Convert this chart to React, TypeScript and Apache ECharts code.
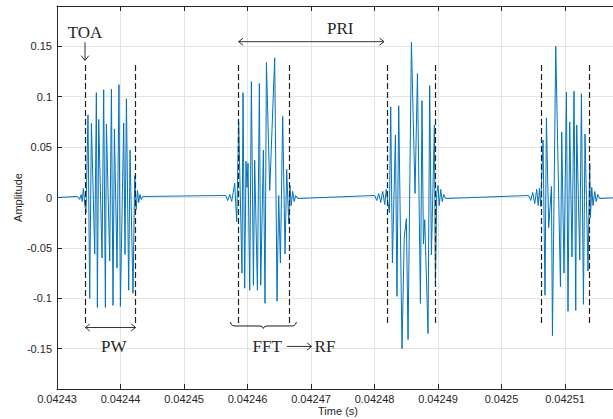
import React, { useEffect, useRef } from "react";
import * as echarts from "echarts";

// time in microseconds, amplitude in signal units
const pulse1: [number, number][] = [
  [42433.26, 0.001], [42433.57, -0.002], [42433.81, 0.003], [42433.97, -0.004],
  [42434.16, 0.009], [42434.36, -0.006], [42434.57, -0.015],
  [42434.88, 0.082], [42435.15, -0.1], [42435.42, 0.0735], [42435.94, -0.056],
  [42436.2, 0.104], [42436.36, -0.109], [42436.57, 0.0775], [42437.09, -0.06],
  [42437.35, 0.107], [42437.62, -0.109], [42437.78, 0.073], [42438.3, -0.063],
  [42438.57, 0.1075], [42438.82, -0.107], [42439.04, 0.068], [42439.45, -0.07],
  [42439.76, 0.112], [42439.98, -0.108], [42440.5, 0.074], [42440.71, -0.0565],
  [42440.93, 0.098], [42441.29, -0.092], [42441.5, 0.047], [42441.97, -0.095],
  [42442.24, 0.0215], [42442.47, -0.012], [42442.68, 0.007], [42442.87, -0.005],
  [42443.07, 0.003], [42443.26, -0.002], [42443.5, 0.001],
];

const pulse2: [number, number][] = [
  [42456.57, 0.002], [42456.88, -0.003], [42457.2, 0.003], [42457.51, -0.004],
  [42457.75, 0.005], [42457.98, 0.014], [42458.3, -0.024],
  [42458.61, 0.075], [42459.13, -0.075], [42459.29, 0.104], [42459.56, -0.09],
  [42459.76, 0.036], [42459.92, 0.01], [42460.08, 0.034], [42460.35, -0.092],
  [42460.61, 0.115], [42460.93, -0.087], [42461.13, 0.037], [42461.56, -0.092],
  [42461.87, 0.113], [42462.08, -0.087], [42462.5, 0.047], [42462.76, -0.105],
  [42462.98, 0.134], [42463.5, 0.007], [42464.28, 0.1386], [42464.65, -0.103],
  [42464.91, 0.002], [42465.18, -0.065], [42465.54, 0.0805], [42465.91, -0.056],
  [42466.17, 0.028], [42466.49, -0.026], [42466.69, 0.012], [42466.88, -0.008],
  [42467.12, 0.006], [42467.35, -0.004], [42467.59, 0.002], [42467.9, -0.001],
];

const pulse3: [number, number][] = [
  [42480.03, 0.002], [42480.35, -0.003], [42480.66, 0.004], [42480.98, -0.005],
  [42481.29, 0.006], [42481.61, -0.007], [42481.84, 0.008], [42482.08, -0.004],
  [42482.35, -0.015], [42482.55, 0.09], [42482.82, -0.065], [42483.29, 0.062],
  [42483.54, -0.098], [42483.81, 0.091], [42484.33, -0.15], [42484.68, -0.04],
  [42485.02, -0.021], [42485.28, -0.141], [42485.81, 0.154], [42486.38, 0.004],
  [42486.76, 0.123], [42487.23, -0.105], [42487.48, 0.096], [42487.7, -0.046],
  [42487.91, -0.022], [42488.43, -0.135], [42488.69, 0.111], [42488.96, -0.057],
  [42489.43, 0.072], [42489.59, -0.087], [42489.8, 0.004], [42490.0, 0.012],
  [42490.19, -0.008], [42490.43, 0.008], [42490.66, -0.004], [42490.9, 0.003],
  [42491.21, -0.001],
];

const pulse4: [number, number][] = [
  [42504.28, 0.002], [42504.6, -0.003], [42504.91, 0.005], [42505.23, -0.006],
  [42505.54, 0.008], [42505.78, -0.008], [42505.97, 0.009], [42506.17, -0.009],
  [42506.54, 0.057], [42506.85, -0.097], [42507.07, 0.079], [42507.43, -0.03],
  [42507.86, 0.011], [42508.02, -0.137], [42508.54, 0.15], [42509.28, -0.0885],
  [42509.48, 0.065], [42509.84, -0.075], [42510.22, 0.1045], [42510.47, -0.113],
  [42510.74, 0.075], [42511.1, -0.059], [42511.42, 0.1055], [42511.69, -0.112],
  [42511.84, 0.072], [42512.32, -0.062], [42512.58, 0.103], [42512.9, -0.106],
  [42513.15, 0.063], [42513.62, -0.073], [42513.89, 0.034], [42514.0, -0.02],
  [42514.21, 0.01], [42514.41, -0.008], [42514.68, 0.006], [42514.91, -0.004],
  [42515.15, 0.003], [42515.46, -0.001],
];

const pulseEdges: number[] = [
  42434.41, 42442.39, 42458.5, 42466.53, 42482.03, 42489.64, 42506.28, 42513.78,
];

const timeRange: [number, number] = [42430, 42518.5];
const ampRange: [number, number] = [-0.19, 0.19];

const INK = "#262626";
const SANS = '"Liberation Sans", Arial, Helvetica, sans-serif';
const SERIF = '"Liberation Serif", "Times New Roman", serif';

export default function App() {
  const ref = useRef<HTMLDivElement>(null);

  useEffect(() => {
    if (!ref.current) return;
    const chart = echarts.init(ref.current, null, { renderer: "svg" });
    const signal: [number, number][] = [
      [timeRange[0], 0],
      ...pulse1,
      ...pulse2,
      ...pulse3,
      ...pulse4,
      [timeRange[1], 0],
    ];
    const fmt = (v: number) => String(parseFloat((v / 1e6).toFixed(6)));

    const xCommon = {
      type: "value",
      min: timeRange[0],
      max: timeRange[1],
      interval: 10,
      axisLine: { show: true, onZero: false, lineStyle: { color: INK, width: 1 } },
      axisTick: { show: true, inside: true, length: 5, lineStyle: { color: INK, width: 1 } },
    };

    chart.setOption({
      animation: false,
      backgroundColor: "#ffffff",
      grid: {
        left: 57,
        top: 6,
        width: 562,
        height: 383,
        containLabel: false,
        outerBoundsMode: "none",
      },
      xAxis: [
        {
          ...xCommon,
          position: "bottom",
          name: "Time (s)",
          nameLocation: "middle",
          nameGap: 16,
          nameMoveOverlap: false,
          nameTextStyle: { color: INK, fontSize: 11, fontFamily: SANS, verticalAlign: "top", lineHeight: 12 },
          axisLabel: {
            show: true,
            margin: 4,
            color: INK,
            fontSize: 11,
            fontFamily: SANS,
            showMaxLabel: false,
            formatter: fmt,
          },
          splitLine: { show: true, lineStyle: { color: "#e3e3e3", width: 1 } },
        },
        {
          ...xCommon,
          position: "top",
          axisLabel: { show: false },
          splitLine: { show: false },
        },
      ],
      yAxis: {
        type: "value",
        min: ampRange[0],
        max: ampRange[1],
        splitNumber: 8,
        minInterval: 0.05,
        maxInterval: 0.05,
        name: "Amplitude",
        nameLocation: "middle",
        nameGap: 34,
        nameMoveOverlap: false,
        nameTextStyle: { color: INK, fontSize: 11, fontFamily: SANS },
        axisLine: { show: true, onZero: false, lineStyle: { color: INK, width: 1 } },
        axisTick: { show: true, inside: true, length: 5, lineStyle: { color: INK, width: 1 } },
        axisLabel: {
          show: true,
          margin: 5,
          color: INK,
          fontSize: 11,
          fontFamily: SANS,
          showMinLabel: false,
          showMaxLabel: false,
        },
        splitLine: { show: true, lineStyle: { color: "#e3e3e3", width: 1 } },
      },
      series: [
        {
          type: "line",
          data: signal,
          showSymbol: false,
          symbol: "none",
          lineStyle: { color: "#0072BD", width: 1 },
          z: 2,
          markLine: {
            silent: true,
            symbol: ["none", "none"],
            label: { show: false },
            lineStyle: { color: "#222222", width: 1.2, type: [6, 3] },
            data: pulseEdges.map((t) => [
              { coord: [t, 0.1315] },
              { coord: [t, -0.1245] },
            ]),
          },
        },
      ],
    });

    const P = (t: number, a: number) =>
      chart.convertToPixel({ seriesIndex: 0 }, [t, a]) as number[];
    const lineStyle = { stroke: "#333333", lineWidth: 1, fill: null as any };
    const g: any[] = [];
    const text = (s: string, p: number[]) =>
      g.push({
        type: "text",
        x: p[0],
        y: p[1],
        z: 10,
        style: {
          text: s,
          font: `17px ${SERIF}`,
          fill: "#262626",
          align: "center",
          verticalAlign: "middle",
        },
      });
    const hArrow = (a: number[], b: number[], left: boolean, right: boolean) => {
      g.push({ type: "line", z: 10, shape: { x1: a[0], y1: a[1], x2: b[0], y2: b[1] }, style: lineStyle });
      if (left)
        g.push({ type: "polyline", z: 10, shape: { points: [[a[0] + 4.5, a[1] - 3.5], [a[0], a[1]], [a[0] + 4.5, a[1] + 3.5]] }, style: lineStyle });
      if (right)
        g.push({ type: "polyline", z: 10, shape: { points: [[b[0] - 4.5, b[1] - 3.5], [b[0], b[1]], [b[0] - 4.5, b[1] + 3.5]] }, style: lineStyle });
    };

    // TOA
    text("TOA", P(42434.41, 0.164));
    const ta = P(42434.41, 0.154);
    const tb = P(42434.41, 0.136);
    g.push({ type: "line", z: 10, shape: { x1: ta[0], y1: ta[1], x2: tb[0], y2: tb[1] }, style: lineStyle });
    g.push({ type: "polyline", z: 10, shape: { points: [[tb[0] - 3.8, tb[1] - 4.8], [tb[0], tb[1]], [tb[0] + 3.8, tb[1] - 4.8]] }, style: lineStyle });

    // PRI
    hArrow(P(42458.6, 0.1546), P(42481.5, 0.1546), true, true);
    text("PRI", P(42474.6, 0.168));

    // PW
    hArrow(P(42434.47, -0.129), P(42442.39, -0.129), true, true);
    text("PW", P(42438.93, -0.148));

    // Brace
    const bl = P(42457.3, -0.1235);
    const br = P(42467.7, -0.1235);
    const L = bl[0], R = br[0], yb = bl[1], yd = yb + 4, tip = yb + 6.5, m = (L + R) / 2;
    g.push({
      type: "polyline",
      z: 10,
      shape: {
        points: [
          [L, yb], [L + 0.8, yb + 2.2], [L + 2.5, yd - 0.3], [L + 4.5, yd],
          [m - 3.5, yd], [m - 1.2, yd + 0.6], [m, tip], [m + 1.2, yd + 0.6],
          [m + 3.5, yd], [R - 4.5, yd], [R - 2.5, yd - 0.3], [R - 0.8, yb + 2.2], [R, yb],
        ],
      },
      style: { stroke: "#1a1a1a", lineWidth: 1, fill: null },
    });

    // FFT -> RF
    text("FFT", P(42463.1, -0.148));
    hArrow(P(42466.2, -0.1478), P(42470.1, -0.1478), false, true);
    text("RF", P(42472.2, -0.148));

    chart.setOption({ graphic: g });

    return () => chart.dispose();
  }, []);

  return (
    <div
      style={{
        position: "fixed",
        left: 0,
        top: 0,
        width: 613,
        height: 419,
        overflow: "hidden",
        background: "#fff",
      }}
    >
      <div ref={ref} style={{ width: 625, height: 419 }} />
    </div>
  );
}
